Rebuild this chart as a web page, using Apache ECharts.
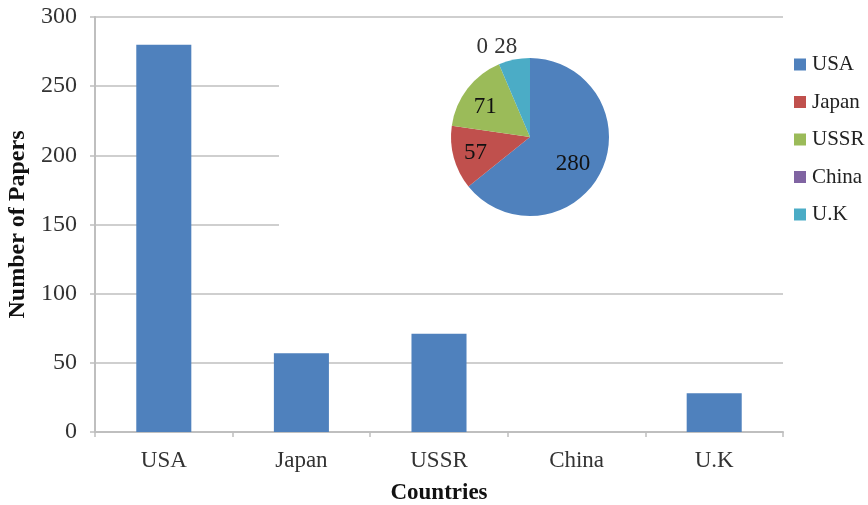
<!DOCTYPE html>
<html>
<head>
<meta charset="utf-8">
<script src="https://cdn.jsdelivr.net/npm/echarts@6/dist/echarts.min.js"></script>
<style>
  html, body { margin: 0; padding: 0; background: #fff; }
  #chart { width: 868px; height: 505px; }
</style>
</head>
<body>
<div id="chart"></div>
<script>
// Papers published per country
const countries = ['USA', 'Japan', 'USSR', 'China', 'U.K'];
const papers = [280, 57, 71, 0, 28];
const sliceColors = ['#4F81BD', '#C0504D', '#9BBB59', '#8064A2', '#4BACC6'];
const yTicks = { min: 0, max: 300, interval: 50 };
// countries whose pie labels sit outside the slice
const outsideLabelled = ['China', 'U.K'];

const font = 'Liberation Serif, Times New Roman, serif';
const axisGrey = '#bfbfbf';

// small nudges applied to the pie value labels
const labelNudge = {
  USA: { dx: -8, dy: 3 },
  Japan: { dx: 0, dy: 1 },
  USSR: { dx: 0, dy: 4 },
  China: { dx: -7, dy: -6, align: 'center' },
  'U.K': { dx: -1, dy: -1, align: 'center' }
};

const pieData = countries.map((name, i) => ({
  name,
  value: papers[i],
  itemStyle: { color: sliceColors[i] }
}));

const labelData = countries.map((name, i) => {
  const outside = outsideLabelled.includes(name);
  return {
    name,
    value: papers[i],
    label: outside
      ? { position: 'outside', color: '#333' }
      : { position: 'inside', color: '#111' },
    labelLine: { show: false, length: 12, length2: 0 }
  };
});

const chart = echarts.init(document.getElementById('chart'), null, { renderer: 'canvas' });

chart.setOption({
  backgroundColor: '#ffffff',
  animation: false,
  textStyle: { fontFamily: font },
  grid: { left: 95, right: 85, top: 17, bottom: 73, containLabel: false, outerBoundsMode: 'none' },
  // white panel behind the inset pie
  graphic: [{
    type: 'rect',
    z: 1,
    shape: { x: 279, y: 21, width: 589, height: 238 },
    style: { fill: '#ffffff' },
    silent: true
  }],
  legend: {
    orient: 'vertical',
    left: 789,
    top: 49,
    itemWidth: 12,
    itemHeight: 12,
    itemGap: 16.5,
    icon: 'rect',
    data: countries,
    textStyle: { fontFamily: font, fontSize: 21, color: '#222', padding: [0, 0, 0, 1] }
  },
  xAxis: {
    type: 'category',
    data: countries,
    name: 'Countries',
    nameLocation: 'middle',
    nameGap: 50,
    nameTextStyle: { fontFamily: font, fontSize: 23, fontWeight: 'bold', color: '#111' },
    axisLine: { lineStyle: { color: axisGrey, width: 2 } },
    axisTick: { show: true, length: 5, lineStyle: { color: axisGrey, width: 1.5 } },
    axisLabel: { fontFamily: font, fontSize: 23, color: '#333', margin: 17 },
    splitLine: { show: false }
  },
  yAxis: {
    type: 'value',
    min: yTicks.min,
    max: yTicks.max,
    interval: yTicks.interval,
    name: 'Number of Papers',
    nameLocation: 'middle',
    nameGap: 55,
    nameRotate: 90,
    nameTextStyle: { fontFamily: font, fontSize: 24, fontWeight: 'bold', color: '#111' },
    axisLine: { show: true, lineStyle: { color: axisGrey, width: 2 } },
    axisTick: { show: true, length: 5, lineStyle: { color: axisGrey, width: 1.5 } },
    axisLabel: { fontFamily: font, fontSize: 24, color: '#333', margin: 18 },
    splitLine: { show: true, lineStyle: { color: axisGrey, width: 1.5 } }
  },
  series: [
    {
      type: 'bar',
      data: papers,
      barWidth: '40%',
      itemStyle: { color: '#4F81BD' },
      z: 0
    },
    {
      type: 'pie',
      center: [530, 137],
      radius: [0, 79],
      startAngle: 90,
      clockwise: true,
      z: 3,
      silent: true,
      label: { show: false },
      labelLine: { show: false },
      data: pieData
    },
    {
      // value labels for the pie, laid over the slices
      type: 'pie',
      center: [530, 137],
      radius: [28, 79],
      startAngle: 90,
      clockwise: true,
      z: 4,
      silent: true,
      avoidLabelOverlap: false,
      minShowLabelAngle: -1,
      labelLayout: (p) => Object.assign({ hideOverlap: false }, labelNudge[countries[p.dataIndex]] || {}),
      itemStyle: { color: 'rgba(0,0,0,0)' },
      label: { show: true, formatter: '{c}', fontFamily: font, fontSize: 23 },
      labelLine: { show: false },
      data: labelData
    }
  ]
});
</script>
</body>
</html>
